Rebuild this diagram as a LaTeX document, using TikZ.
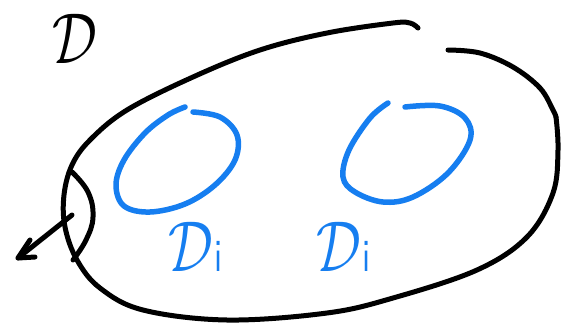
\documentclass[tikz,border=0pt]{standalone}
\usepackage{fontspec}
\definecolor{penblue}{RGB}{22,126,240}
\tikzset{
  blackpen/.style={draw=black,line width=5pt,line cap=round,line join=round},
  bluepen/.style={draw=penblue,line width=5.5pt,line cap=round,line join=round},
  bigD/.style={inner sep=0pt},
  blueD/.style={inner sep=0pt,text=penblue}
}
\newcommand{\handD}{\scalebox{5.6}[7.2]{$\mathcal{D}$}}
\newcommand{\handi}{\scalebox{3.4}[4.6]{\sffamily i}}
\begin{document}
\begin{tikzpicture}[x=1pt,y=-1pt]
\useasboundingbox (0,0) rectangle (570,327);
% outer boundary, first stroke
\draw[blackpen] plot[smooth,tension=0.6] coordinates {(418,28) (410,23) (393,23) (327,33) (260,50) (193,77) (127,110) (90,140) (72,165) (64,195) (65,227) (77,260) (100,288) (143,310) (227,320) (327,313) (393,298) (477,270) (527,237) (553,193) (558,150) (556,117)};
% outer boundary, second stroke
\draw[blackpen] plot[smooth,tension=0.6] coordinates {(448,50) (480,53) (513,67) (540,88) (553,110) (556,117)};
% lens arc
\draw[blackpen] plot[smooth,tension=0.7] coordinates {(72,172) (88,192) (93,217) (86,240) (73,260)};
% arrow
\coordinate (arrowstart) at (72,215);
\coordinate (arrowtip) at (18,258);
\draw[blackpen] (arrowstart) -- (arrowtip);
\draw[blackpen] (30,240) -- (arrowtip) -- (35,257);
% blue curves
\draw[bluepen] plot[smooth,tension=0.6] coordinates {(193,112) (220,117) (237,135) (235,160) (215,185) (185,204) (150,212) (124,206) (116,185) (124,160) (145,133) (168,115) (185,107)};
\draw[bluepen] plot[smooth,tension=0.6] coordinates {(405,107) (440,106) (465,118) (470,140) (448,173) (413,197) (383,202) (355,192) (343,177) (349,150) (370,118) (388,103)};
% labels
\node[bigD,anchor=base west] (D) at (52,63) {\handD};
\node[blueD,anchor=base west] (Di) at (168,271) {\handD\,\handi};
\node[blueD,anchor=base west] (Dj) at (316,271) {\handD\,\handi};
\end{tikzpicture}
\end{document}
